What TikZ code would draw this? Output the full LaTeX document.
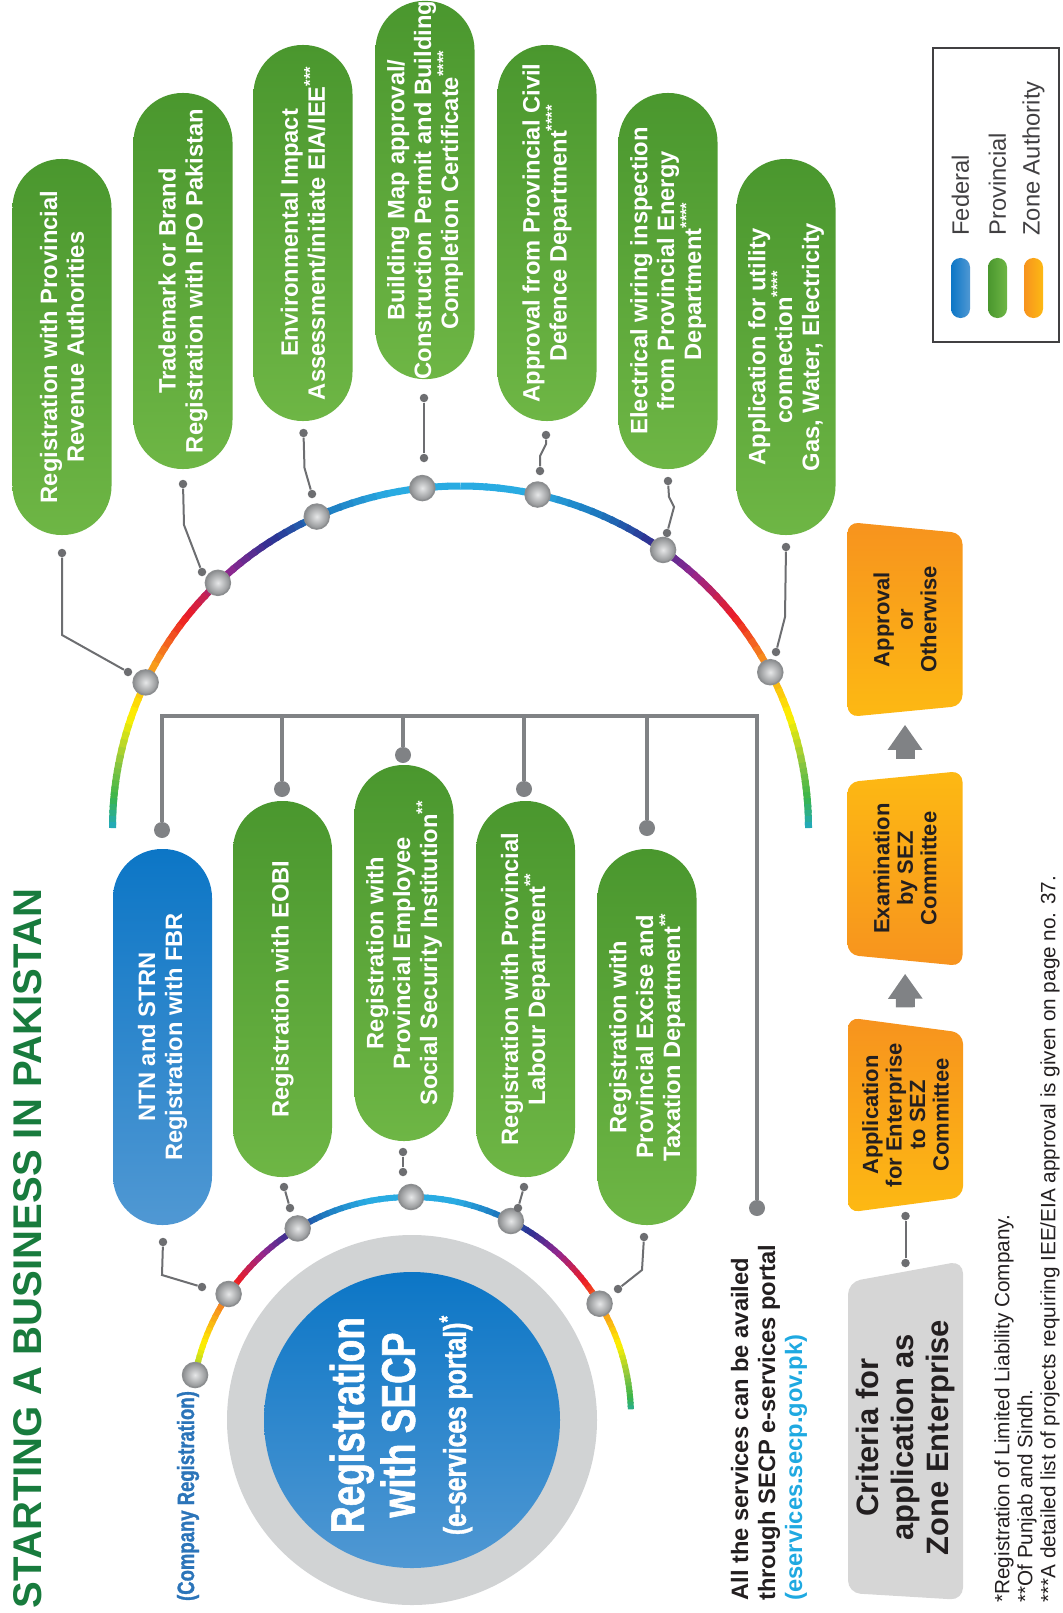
\documentclass[tikz,border=0pt]{standalone}
\usepackage{fontspec}
\setmainfont{Liberation Sans}
\newfontfamily\condensed[FakeStretch=0.78,FakeBold=1.2]{Liberation Sans Bold}
\usetikzlibrary{arrows.meta}
\usetikzlibrary{shapes.geometric}

\definecolor{titlegreen}{HTML}{187B3D}
\definecolor{provdark}{HTML}{4A972E}
\definecolor{provlight}{HTML}{6EB645}
\definecolor{feddark}{HTML}{0C76C6}
\definecolor{fedlight}{HTML}{5098D3}
\definecolor{zoneorange}{HTML}{F7931E}
\definecolor{zoneyellow}{HTML}{FDB913}
\definecolor{linegray}{HTML}{6D6E71}
\definecolor{busgray}{HTML}{808285}
\definecolor{ringgray}{HTML}{D1D3D4}
\definecolor{critgray}{HTML}{D6D6D6}
\definecolor{inkgray}{HTML}{231F20}
\definecolor{leggray}{HTML}{414042}
\definecolor{linkblue}{HTML}{1FA9E1}
\definecolor{regblue}{HTML}{2B74B9}
\definecolor{knoblight}{HTML}{E6E7E8}
\definecolor{knobdark}{HTML}{8C8E90}
\definecolor{rbA}{HTML}{29ABE2}
\definecolor{rbB}{HTML}{1C75BC}
\definecolor{rbC}{HTML}{2E3192}
\definecolor{rbD}{HTML}{92278F}
\definecolor{rbE}{HTML}{ED1C24}
\definecolor{rbF}{HTML}{F7941D}
\definecolor{rbG}{HTML}{FFF200}
\definecolor{rbH}{HTML}{8DC63F}
\definecolor{rbI}{HTML}{39B54A}
\definecolor{rbJ}{HTML}{1CA7D9}

\newcommand\pillfont{\fontsize{13.5}{15.3}\selectfont\bfseries}
\newcommand\zonefont{\fontsize{12.5}{13.4}\selectfont\bfseries}
\newcommand\critfont{\fontsize{17.6}{20}\selectfont\bfseries}
\newcommand\notefont{\fontsize{13.5}{15.4}\selectfont\bfseries}
\newcommand\footfont{\fontsize{11.8}{13.1}\selectfont}
\newcommand\legfont{\fontsize{13.5}{16}\selectfont}
\newcommand\titlefont{\fontsize{22.8}{27}\selectfont\bfseries}
\newcommand\secpfont{\condensed\fontsize{27}{29}\selectfont}

% #1 centre, #2 x radius, #3 y radius, #4 left limit, #5 right limit, #6 width
\newcommand\rainbowarc[6]{%
  \foreach \dlo/\dhi/\cola/\colb in {0/12/rbA/rbA,12/24/rbA/rbB,24/33/rbB/rbC,33/42/rbC/rbD,42/52/rbD/rbE,52/61/rbE/rbF,61/71/rbF/rbG,71/79/rbG/rbH,79/85/rbH/rbI,85/91/rbI/rbJ}{%
    \foreach \i in {0,...,5}{%
      \pgfmathsetmacro\rba{\dlo+(\dhi-\dlo)*\i/6}%
      \pgfmathsetmacro\rbb{\dlo+(\dhi-\dlo)*(\i+1)/6+0.5}%
      \pgfmathtruncatemacro\rbp{100-100*(\i+0.5)/6}%
      \ifdim\rba pt<#4pt
        \pgfmathsetmacro\rbe{min(\rbb,#4)}%
        \draw[line width=#6,draw=\cola!\rbp!\colb] ([shift={#1}]270-\rba:#2 and #3) arc[start angle=270-\rba,end angle=270-\rbe,x radius=#2,y radius=#3];
      \fi
      \ifdim\rba pt<#5pt
        \pgfmathsetmacro\rbe{min(\rbb,#5)}%
        \draw[line width=#6,draw=\cola!\rbp!\colb] ([shift={#1}]270+\rba:#2 and #3) arc[start angle=270+\rba,end angle=270+\rbe,x radius=#2,y radius=#3];
      \fi
    }%
  }%
}

\begin{document}
\begin{tikzpicture}[x=0.2mm,y=-0.2mm,
  pill/.style={rectangle,rounded corners=9.8mm,rotate=90,minimum width=75.2mm,minimum height=19.8mm,inner sep=0pt,align=center,text=white,font=\pillfont},
  prov/.style={pill,top color=provdark,bottom color=provlight},
  fed/.style={pill,top color=feddark,bottom color=fedlight},
  knob/.style={circle,minimum size=5mm,inner sep=0pt,inner color=knoblight,outer color=knobdark,draw=knobdark,line width=0.3mm},
  dot/.style={circle,fill=linegray,inner sep=0pt,minimum size=1.7mm},
  busdot/.style={circle,fill=busgray,inner sep=0pt,minimum size=3.2mm},
  thinline/.style={draw=linegray,line width=0.4mm},
  busline/.style={draw=busgray,line width=0.9mm},
  zonebox/.style={trapezium,trapezium stretches body=true,rotate=90,minimum width=39mm,minimum height=23mm,rounded corners=2.2mm,inner sep=0pt,align=center,font=\zonefont,text=inkgray},
  widetop/.style={zonebox,trapezium angle=100,top color=zoneorange,bottom color=zoneyellow},
  widebottom/.style={zonebox,trapezium angle=80,top color=zoneyellow,bottom color=zoneorange},
  flowarrow/.style={draw=busgray,line width=3.8mm,-{Triangle[length=5mm,width=6.6mm]},shorten <=3.5mm,shorten >=2.6mm},
  legbar/.style={rectangle,rounded corners=1.85mm,minimum width=3.8mm,minimum height=12mm,inner sep=0pt},
  legtext/.style={rotate=90,anchor=west,inner sep=0pt,font=\legfont,text=leggray}]
\useasboundingbox (0,0) rectangle (1062,1613);

\node[rotate=90,font=\titlefont,text=titlegreen] (title) at (28,1248.5) {STARTING A BUSINESS IN PAKISTAN};

\rainbowarc{(460.5,828)}{348}{342}{90}{90}{1.4mm}
\rainbowarc{(411,1417)}{220}{220}{79}{88}{1.2mm}

\node[circle,minimum size=74mm,inner sep=0pt,fill=ringgray] (ring) at (412,1420) {};
\node[circle,minimum size=59.2mm,inner sep=0pt,rotate=90,top color=feddark,bottom color=fedlight] (secp) at (412,1420) {};
\node[rotate=90,align=center,text=white,font=\secpfont] (secptext) at (401,1425) {Registration\\with SECP\\{\fontsize{18}{29}\selectfont(e-services portal)\textsuperscript{*}}};
\node[rotate=90,text=regblue,font=\condensed\fontsize{13.5}{15}\selectfont] (coreg) at (188,1496) {(Company Registration)};

\node[knob] (ka1) at ([shift={(460.5,828)}]205.2:348 and 342) {};
\node[knob] (ka2) at ([shift={(460.5,828)}]225.8:348 and 342) {};
\node[knob] (ka3) at ([shift={(460.5,828)}]245.6:348 and 342) {};
\node[knob] (ka4) at ([shift={(460.5,828)}]263.7:348 and 342) {};
\node[knob] (ka5) at ([shift={(460.5,828)}]282.8:348 and 342) {};
\node[knob] (ka6) at ([shift={(460.5,828)}]305.6:348 and 342) {};
\node[knob] (ka7) at ([shift={(460.5,828)}]332.9:348 and 342) {};
\node[knob] (kb0) at ([shift={(411,1417)}]191:220) {};
\node[knob] (kb1) at ([shift={(411,1417)}]214:220) {};
\node[knob] (kb2) at ([shift={(411,1417)}]239:220) {};
\node[knob] (kb3) at ([shift={(411,1417)}]270:220) {};
\node[knob] (kb4) at ([shift={(411,1417)}]297:220) {};
\node[knob] (kb5) at ([shift={(411,1417)}]329:220) {};

\node[prov] (revenue) at (62,347) {Registration with Provincial\\Revenue Authorities};
\node[prov] (trademark) at (183,281) {Trademark or Brand\\Registration with IPO Pakistan};
\node[prov] (environment) at (303,233) {Environmental Impact\\Assessment/initiate EIA/IEE\textsuperscript{***}};
\node[prov] (building) at (425,190) {Building Map approval/\\Construction Permit and Building\\Completion Certificate\textsuperscript{****}};
\node[prov] (civildef) at (547,233) {Approval from Provincial Civil\\Defence Department\textsuperscript{****}};
\node[prov] (wiring) at (668,281) {Electrical wiring inspection\\from Provincial Energy\\Department\textsuperscript{****}};
\node[prov] (utility) at (786,347) {Application for utility\\connection\textsuperscript{****}\\Gas, Water, Electricity};

\node[fed] (ntn) at (162.5,1037) {NTN and STRN\\Registration with FBR};
\node[prov] (eobi) at (282.5,989) {Registration with EOBI};
\node[prov] (pessi) at (404,953) {Registration with\\Provincial Employee\\Social Security Institution\textsuperscript{**}};
\node[prov] (labour) at (525.5,989) {Registration with Provincial\\Labour Department\textsuperscript{**}};
\node[prov] (excise) at (647,1037) {Registration with\\Provincial Excise and\\Taxation Department\textsuperscript{**}};

\node[dot] (u1a) at (62,553) {};
\node[dot] (u1b) at (128,672) {};
\node[dot] (u2a) at (183,484) {};
\node[dot] (u2b) at (202,572) {};
\node[dot] (u3a) at (303.5,433) {};
\node[dot] (u3b) at (312,494) {};
\node[dot] (u4a) at (424,398) {};
\node[dot] (u4b) at (424,458) {};
\node[dot] (u5a) at (546,435) {};
\node[dot] (u5b) at (540,471) {};
\node[dot] (u6a) at (668,481) {};
\node[dot] (u6b) at (667,533) {};
\node[dot] (u7a) at (786,547) {};
\node[dot] (u7b) at (776,652) {};
\draw[thinline] (u1a) -- ++(0,82) -- (u1b);
\draw[thinline] (u2a) -- (184,525) -- (u2b);
\draw[thinline] (u3a) -- (304.5,468) -- (u3b);
\draw[thinline] (u4a) -- (u4b);
\draw[thinline] (u5a) -- (546,444) -- (540,456) -- (u5b);
\draw[thinline] (u6a) -- (669,497) -- (674,507) -- (u6b);
\draw[thinline] (u7a) -- (785,617) -- (u7b);

\node[dot] (l1a) at (163,1242) {};
\node[dot] (l1b) at (202,1287) {};
\node[dot] (l2a) at (284,1187) {};
\node[dot] (l2b) at (290,1208) {};
\node[dot] (l3a) at (403,1152) {};
\node[dot] (l3b) at (403,1172) {};
\node[dot] (l4a) at (524,1187) {};
\node[dot] (l4b) at (518,1208) {};
\node[dot] (l5a) at (644,1237) {};
\node[dot] (l5b) at (618,1289) {};
\draw[thinline] (l1a) -- (162,1275) -- (l1b);
\draw[thinline] (l2a) -- (l2b);
\draw[thinline] (l3a) -- (l3b);
\draw[thinline] (l4a) -- (l4b);
\draw[thinline] (l5a) -- (642,1270) -- (l5b);

\coordinate (busL) at (162,716);
\coordinate (busR) at (757,716);
\node[busdot] (b1) at (162,830) {};
\node[busdot] (b2) at (282,789) {};
\node[busdot] (b3) at (403,755) {};
\node[busdot] (b4) at (524,789) {};
\node[busdot] (b5) at (647,828) {};
\node[busdot] (b6) at (757,1208) {};
\draw[busline] (b1) -- (busL) -- (busR) -- (b6);
\draw[busline] (b2) -- (b2 |- busL);
\draw[busline] (b3) -- (b3 |- busL);
\draw[busline] (b4) -- (b4 |- busL);
\draw[busline] (b5) -- (b5 |- busL);

\node[rotate=90,anchor=west,align=left,inner sep=0pt,font=\notefont,text=inkgray] (portal) at (769,1601) {All the services can be availed\\through SECP e-services portal\\\textcolor{linkblue}{(eservices.secp.gov.pk)}};

\node[widetop] (apply) at (905.5,1115) {Application\\for Enterprise\\to SEZ\\Committee};
\node[widebottom] (exam) at (905,868.5) {Examination\\by SEZ\\Committee};
\node[widetop] (approve) at (905,619.5) {Approval\\or\\Otherwise};
\node[trapezium,trapezium stretches body=true,trapezium left angle=86,trapezium right angle=78,rotate=90,minimum width=67.8mm,minimum height=23mm,rounded corners=2.5mm,inner sep=0pt,fill=critgray,align=center,font=\critfont,text=inkgray] (criteria) at (905.5,1437.5) {Criteria for\\application as\\Zone Enterprise};
\draw[flowarrow] (apply.east) -- (exam.west);
\draw[flowarrow] (exam.east) -- (approve.west);
\node[dot] (c1) at (905.5,1216) {};
\node[dot] (c2) at (905.5,1263) {};
\draw[thinline] (c1) -- (c2);

\draw[leggray,line width=0.4mm] (933,48) rectangle (1059,342);
\node[legbar,left color=feddark,right color=fedlight] (fedbar) at (960.5,288) {};
\node[legbar,left color=provdark,right color=provlight] (provbar) at (997.5,288) {};
\node[legbar,left color=zoneorange,right color=zoneyellow] (zonebar) at (1033.5,288) {};
\node[legtext] (fedlabel) at (960.5,236) {Federal};
\node[legtext] (provlabel) at (997.5,236) {Provincial};
\node[legtext] (zonelabel) at (1033.5,236) {Zone Authority};

\node[rotate=90,anchor=west,align=left,inner sep=0pt,font=\footfont,text=inkgray] (notes) at (1027,1603) {*Registration of Limited Liability Company.\\**Of Punjab and Sindh.\\***A detailed list of projects requiring IEE/EIA approval is given on page no. 37.};
\end{tikzpicture}
\end{document}
